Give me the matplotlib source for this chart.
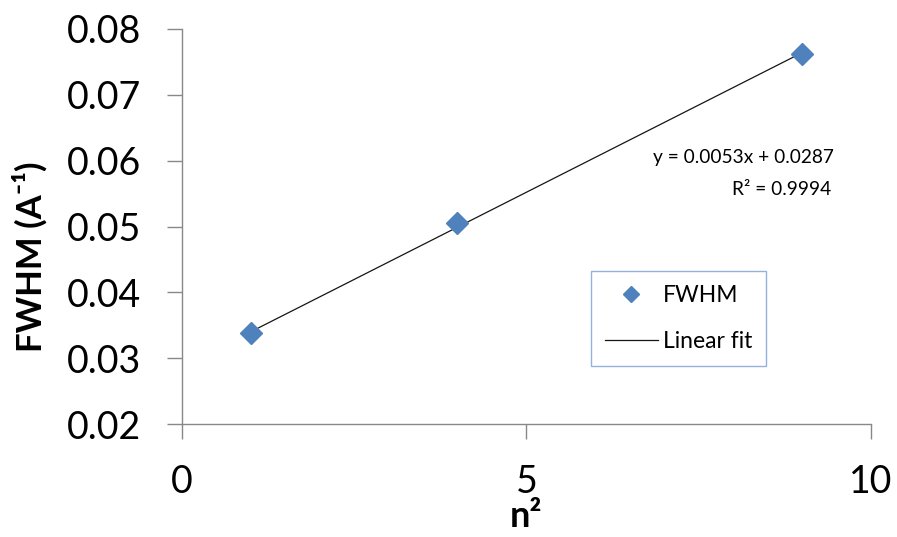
import numpy as np
import matplotlib
matplotlib.use("Agg")
import matplotlib.pyplot as plt

plt.rcParams['font.family'] = ['Lato', 'DejaVu Sans']

n_squared = [1, 4, 9]
fwhm_vals = [0.0338, 0.0505, 0.0762]

slope, intercept = 0.0053, 0.0287
r_squared = 0.9994

fig = plt.figure(figsize=(8.97, 5.37), dpi=100)
ax = fig.add_axes([0.2026, 0.2104, 0.7684, 0.7356])

# Excel-style trendline drawn over the data range only
fit_x = np.array([min(n_squared), max(n_squared)])
fit_y = slope * fit_x + intercept
ax.plot(fit_x, fit_y, color='#151515', lw=0.9, label='Linear fit', zorder=2)
ax.plot(n_squared, fwhm_vals, linestyle='none', marker='D', ms=11.5,
        color='#4F81BD', label='FWHM', zorder=3)

ax.set_xlim(0, 10)
ax.set_ylim(0.02, 0.08)
ax.set_xticks([0, 5, 10])
ax.set_yticks(np.arange(0.02, 0.0801, 0.01))
ax.set_yticklabels(['0.02', '0.03', '0.04', '0.05', '0.06', '0.07', '0.08'])

for side in ['top', 'right']:
    ax.spines[side].set_visible(False)
for side in ['left', 'bottom']:
    ax.spines[side].set_color('#888888')
    ax.spines[side].set_linewidth(1.0)
ax.tick_params(axis='both', direction='out', length=11, width=1.0,
               color='#888888', labelsize=27)
ax.tick_params(axis='x', pad=18)
ax.tick_params(axis='y', pad=18)

ax.set_xlabel('n²', fontsize=26, fontweight='bold')
ax.xaxis.set_label_coords(0.5, -0.261)
ax.xaxis.label.set_verticalalignment('baseline')
ax.set_ylabel('FWHM (A⁻¹)', fontsize=25, fontweight='bold')
ax.yaxis.set_label_coords(-0.22, 0.423)
ax.yaxis.label.set_verticalalignment('center')

ax.text(9.468, 0.05965, 'y = %.4fx + %.4f' % (slope, intercept),
        fontsize=13.8, ha='right', va='baseline')
ax.text(9.425, 0.05479, 'R² = %.4f' % r_squared,
        fontsize=13.8, ha='right', va='baseline')

handles, labels = ax.get_legend_handles_labels()
leg = ax.legend(handles[::-1], labels[::-1], loc='upper left',
                bbox_to_anchor=(0.594, 0.387), borderaxespad=0, fontsize=16.5,
                frameon=True, fancybox=False, handlelength=2.3, markerscale=0.72,
                borderpad=0.6, labelspacing=1.1, handletextpad=0.22,
                edgecolor='#7A9CD3')
leg.get_frame().set_linewidth(1.0)

fig.savefig('out.png', dpi=100)
